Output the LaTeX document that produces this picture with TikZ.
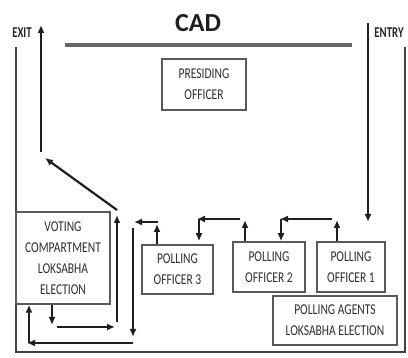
\documentclass[tikz,border=0pt]{standalone}
\usepackage{fontspec}
\setmainfont{Carlito}
\newfontfamily\condfont{Carlito}[FakeStretch=0.77]
\newfontfamily\sidefont{Carlito}[FakeStretch=0.72]
\usetikzlibrary{arrows.meta}
\newcommand\boxtext{\condfont\fontsize{15}{21}\selectfont}
\newcommand\sidetext{\sidefont\bfseries\fontsize{15}{18}\selectfont}
\begin{document}
\begin{tikzpicture}[x=1pt,y=-1pt,
  arr/.style={-{Latex[length=8pt,width=7pt]}, line width=2.2pt, draw=black!88},
  box/.style={draw=black!65, line width=1.5pt, inner sep=0pt, align=center, font=\boxtext, text=black!82},
  frameline/.style={line width=2.3pt, draw=black!75},
  cadline/.style={line width=4pt, draw=black!60}]
\useasboundingbox (0,0) rectangle (408,358);

% titles
\node[font=\bfseries\fontsize{26}{30}\selectfont, text=black!88] (cad) at (198,23) {CAD};
\node[font=\sidetext, text=black!85] (exit) at (22,33) {EXIT};
\node[font=\sidetext, text=black!85] (entry) at (389,33) {ENTRY};

% CAD line
\coordinate (cadL) at (65,45);
\coordinate (cadR) at (352,45);
\draw[cadline] (cadL) -- (cadR);

% frame
\coordinate (fTL) at (16,47);
\coordinate (fBL) at (16,352);
\coordinate (fBR) at (405,352);
\coordinate (fTR) at (405,47);
\draw[frameline] (fTL) -- (fBL) -- (fBR) -- (fTR);

% boxes
\node[box, minimum width=84pt, minimum height=51pt] (pres) at (204,84.5) {PRESIDING\\OFFICER};
\node[box, minimum width=94pt, minimum height=92pt] (vc) at (63,258) {VOTING\\COMPARTMENT\\LOKSABHA\\ELECTION};
\node[box, minimum width=71pt, minimum height=49pt] (po3) at (177.5,269.5) {POLLING\\OFFICER 3};
\node[box, minimum width=72pt, minimum height=50pt] (po2) at (269,267) {POLLING\\OFFICER 2};
\node[box, minimum width=68pt, minimum height=50pt] (po1) at (351,267) {POLLING\\OFFICER 1};
\node[box, minimum width=124pt, minimum height=49pt] (pa) at (335,320.5) {POLLING AGENTS\\LOKSABHA ELECTION};

% entry and exit
\coordinate (en1) at (368,23);
\coordinate (en2) at (368,222);
\draw[arr] (en1) -- (en2);
\coordinate (ex1) at (41,152);
\coordinate (ex2) at (41,25);
\draw[arr] (ex1) -- (ex2);

% PO1 -> PO2
\coordinate (a1) at (337,220);
\draw[arr] (po1.north -| a1) -- (a1);
\coordinate (h1s) at (332,219);
\coordinate (h1e) at (280,219);
\draw[arr] (h1s) -- (h1e);
\coordinate (d1s) at (281,219);
\draw[arr] (d1s) -- (d1s |- po2.north);

% PO2 -> PO3
\coordinate (a2) at (245,220);
\draw[arr] (po2.north -| a2) -- (a2);
\coordinate (h2s) at (240,219);
\coordinate (h2e) at (197,219);
\draw[arr] (h2s) -- (h2e);
\coordinate (d2s) at (199,219);
\draw[arr] (d2s) -- ([yshift=3pt]d2s |- po3.north);

% PO3 -> left
\coordinate (a3) at (157,224);
\draw[arr] (po3.north -| a3) -- (a3);
\coordinate (h3s) at (158,222);
\coordinate (h3e) at (134,222);
\draw[arr] (h3s) -- (h3e);

% down, left, up into voting compartment
\coordinate (dn1) at (133,228);
\coordinate (dn2) at (133,337);
\draw[arr] (dn1) -- (dn2);
\coordinate (lf1) at (133,343);
\coordinate (lf2) at (27,343);
\draw[arr] (lf1) -- (lf2);
\coordinate (up1) at (29,343);
\draw[arr] (up1) -- (up1 |- vc.south);

% out of voting compartment
\coordinate (vd) at (52,325);
\draw[arr] (vc.south -| vd) -- (vd);
\coordinate (rt1) at (57,327);
\coordinate (rt2) at (115,327);
\draw[arr] (rt1) -- (rt2);
\coordinate (vu1) at (117,322);
\coordinate (vu2) at (117,215);
\draw[arr] (vu1) -- (vu2);
\coordinate (dg1) at (117,210);
\coordinate (dg2) at (45,158);
\draw[arr] (dg1) -- (dg2);
\end{tikzpicture}
\end{document}
